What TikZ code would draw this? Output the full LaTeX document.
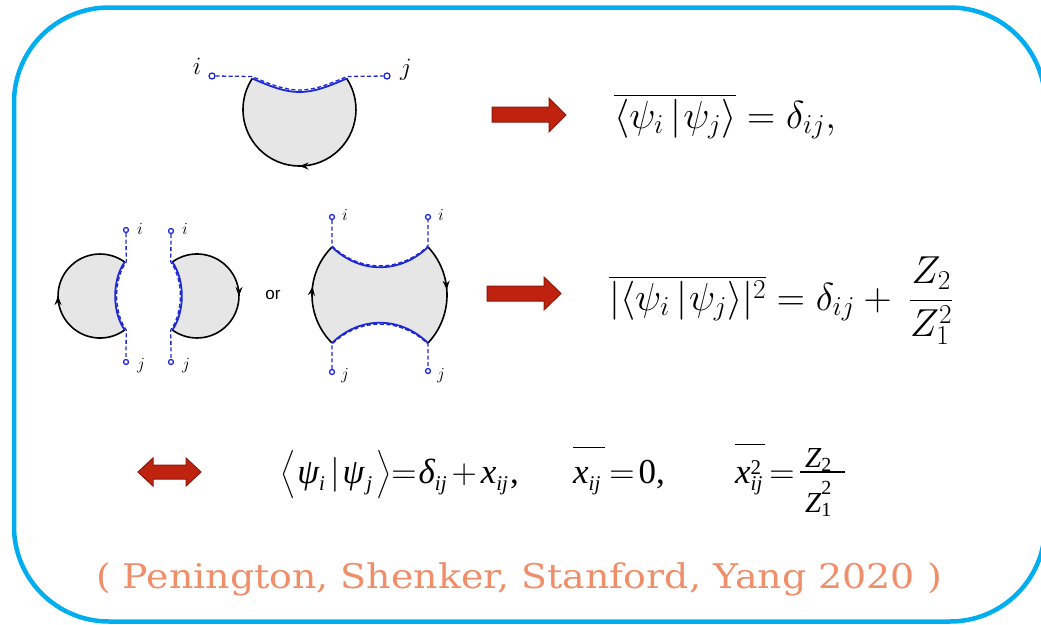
\RequirePackage{fix-cm}
\documentclass[tikz,border=0pt]{standalone}
\usepackage{amsmath}
\usepackage{graphicx}
\usepackage{fontspec}
\newfontfamily\tnr{Liberation Serif}
\newfontfamily\citefont{DejaVu Serif}
\newfontfamily\orfont{Liberation Sans}
\usetikzlibrary{arrows.meta,decorations.markings}
\definecolor{bord}{RGB}{0,174,239}
\definecolor{arrred}{RGB}{192,34,16}
\definecolor{arredge}{RGB}{140,22,10}
\definecolor{citec}{RGB}{240,142,106}
\definecolor{lnblue}{RGB}{30,40,210}
\definecolor{diskgray}{RGB}{230,230,230}
\newcommand\tit[1]{{\tnr\itshape #1}}
\newcommand\tsub[1]{\raisebox{-0.2em}{\fontsize{21}{23}\selectfont\tnr\itshape #1}}
\newcommand\tsubr[1]{\raisebox{-0.15em}{\fontsize{20}{22}\selectfont\tnr #1}}
\newcommand\tsupx[1]{\raisebox{0.25em}{\fontsize{21}{23}\selectfont\tnr #1}}
\newcommand\tsupz[1]{\raisebox{0.62em}{\fontsize{20}{22}\selectfont\tnr #1}}
\newcommand\tallopen[1]{\mathopen{\vcenter{\hbox{\scalebox{1}[1.08]{$\big#1$}}}}}
\newcommand\tallclose[1]{\mathclose{\vcenter{\hbox{\scalebox{1}[1.08]{$\big#1$}}}}}
\tikzset{
  bluedash/.style={draw=lnblue, line width=1.3pt, dash pattern=on 4pt off 2.5pt},
  bluesolid/.style={draw=lnblue, line width=1.8pt},
  rim/.style={draw=black, line width=1.6pt},
  endpt/.style={circle, draw=lnblue, fill=white, line width=1.3pt, inner sep=0pt, minimum size=6pt},
  midarrow/.style={postaction={decorate}, decoration={markings, mark=at position #1 with {\arrow{Stealth[length=9pt,width=7pt]}}}},
  redarrow/.style={fill=arrred, draw=arredge, line width=1pt, line join=miter},
  lbl/.style={inner sep=0pt, font=\fontsize{17}{19}\selectfont},
  eqn/.style={anchor=base west, inner sep=0pt},
  teq/.style={anchor=base west, inner sep=0pt, font=\fontsize{35}{37}\selectfont},
  feq/.style={anchor=base west, inner sep=0pt, font=\fontsize{29}{31}\selectfont}
}
\begin{document}
\begin{tikzpicture}[x=1pt,y=-1pt]
\useasboundingbox (0,0) rectangle (1041,624);
\clip (0,0) rectangle (1041,624);
% border
\draw[bord, line width=4.5pt, rounded corners=95pt] (14,7.5) rectangle (1045,621.5);

% ---------- top diagram ----------
\coordinate (tA) at (252.3,78.5);
\coordinate (tB) at (346.7,78.5);
\coordinate (tD) at (299.5,92);
\fill[diskgray] (tA) .. controls (272,87) and (285,92) .. (tD) .. controls (314,92) and (327,87) .. (tB) arc[start angle=-33.3,end angle=213.3,radius=56.5] -- cycle;
\draw[rim, midarrow=0.5] (tB) arc[start angle=-33.3,end angle=213.3,radius=56.5];
\draw[bluesolid] (tA) .. controls (272,87) and (285,92) .. (tD) .. controls (314,92) and (327,87) .. (tB);
\node[endpt] (ti) at (212,76) {};
\node[endpt] (tj) at (387,76) {};
\coordinate (tA2) at (252,76.5);
\coordinate (tB2) at (347,76.5);
\coordinate (tD2) at (299.5,90);
\draw[bluedash] (ti) -- (tA2) .. controls (272,85) and (285,90) .. (tD2) .. controls (314,90) and (327,85) .. (tB2) -- (tj);
\node[inner sep=0pt, font=\fontsize{25}{27}\selectfont] (tli) at (197,66) {$i$};
\node[inner sep=0pt, font=\fontsize{25}{27}\selectfont] (tlj) at (406,70) {$j$};

% ---------- middle left pair ----------
\coordinate (lT) at (124.7,262);
\coordinate (lB) at (124.7,330);
\fill[diskgray] (lB) arc[start angle=54,end angle=306,radius=42] .. controls (112,280) and (112,312) .. (lB) -- cycle;
\draw[rim, midarrow=0.5] (lB) arc[start angle=54,end angle=306,radius=42];
\draw[bluesolid] (lT) .. controls (112,280) and (112,312) .. (lB);
\node[endpt, minimum size=5pt] (li) at (126,230) {};
\node[endpt, minimum size=5pt] (lj) at (126,362) {};
\coordinate (lT2) at (126.2,262);
\coordinate (lB2) at (126.2,330);
\draw[bluedash] (li) -- (lT2) .. controls (113.5,280) and (113.5,312) .. (lB2) -- (lj);
\node[lbl] (lli) at (140,229) {$i$};
\node[lbl] (llj) at (141,366) {$j$};

\coordinate (rT) at (172.3,262);
\coordinate (rB) at (172.3,330);
\fill[diskgray] (rT) arc[start angle=-126,end angle=126,radius=42] .. controls (185,312) and (185,280) .. (rT) -- cycle;
\draw[rim, midarrow=0.5] (rT) arc[start angle=-126,end angle=126,radius=42];
\draw[bluesolid] (rT) .. controls (185,280) and (185,312) .. (rB);
\node[endpt, minimum size=5pt] (ri) at (171,231) {};
\node[endpt, minimum size=5pt] (rj) at (171,362) {};
\coordinate (rT2) at (170.8,262);
\coordinate (rB2) at (170.8,330);
\draw[bluedash] (ri) -- (rT2) .. controls (183.5,280) and (183.5,312) .. (rB2) -- (rj);
\node[lbl] (rli) at (185,229) {$i$};
\node[lbl] (rlj) at (186,366) {$j$};

\node[inner sep=0pt, font=\orfont\fontsize{17}{19}\selectfont] (or) at (273,295) {or};

% ---------- middle right shape ----------
\coordinate (TL) at (332,247);
\coordinate (TR) at (428,247);
\coordinate (BR) at (428,343);
\coordinate (BL) at (332,343);
\fill[diskgray] (TL) .. controls (360,274) and (400,274) .. (TR) arc[start angle=-43.21,end angle=43.21,radius=70.1] .. controls (400,316) and (360,316) .. (BL) arc[start angle=134.76,end angle=225.24,radius=67.6] -- cycle;
\draw[rim, midarrow=0.45] (TR) arc[start angle=-43.21,end angle=43.21,radius=70.1];
\draw[rim, midarrow=0.58] (BL) arc[start angle=134.76,end angle=225.24,radius=67.6];
\draw[bluesolid] (TL) .. controls (360,274) and (400,274) .. (TR);
\draw[bluesolid] (BL) .. controls (360,316) and (400,316) .. (BR);
\node[endpt, minimum size=5pt] (bi1) at (332,217) {};
\node[endpt, minimum size=5pt] (bi2) at (428,217) {};
\node[endpt, minimum size=5pt] (bj1) at (332,372) {};
\node[endpt, minimum size=5pt] (bj2) at (428,371) {};
\coordinate (TL2) at (332,246);
\coordinate (TR2) at (428,246);
\coordinate (BL2) at (332,344);
\coordinate (BR2) at (428,344);
\draw[bluedash] (bi1) -- (TL2) .. controls (360,272.5) and (400,272.5) .. (TR2) -- (bi2);
\draw[bluedash] (bj1) -- (BL2) .. controls (360,317.5) and (400,317.5) .. (BR2) -- (bj2);
\node[lbl] (bli1) at (345,215) {$i$};
\node[lbl] (bli2) at (441,215) {$i$};
\node[lbl] (blj1) at (345,376) {$j$};
\node[lbl] (blj2) at (441,376) {$j$};

% ---------- red arrows ----------
\draw[redarrow] (492,107) -- (549,107) -- (549,98) -- (566,115) -- (549,132) -- (549,122) -- (492,122) -- cycle;
\draw[redarrow] (487,286) -- (544,286) -- (544,277) -- (561,293.5) -- (544,310) -- (544,301) -- (487,301) -- cycle;
\draw[redarrow] (138,472) -- (153,458) -- (153,465) -- (186,465) -- (186,458) -- (201,472) -- (186,486) -- (186,479) -- (153,479) -- (153,486) -- cycle;

% ---------- equations ----------
\node[eqn, font=\fontsize{39}{41}\selectfont] (eq1) at (614,128) {$\overline{\langle\psi_i\mkern3mu|\mkern1mu\psi_j\rangle} = \delta_{ij},$};
\node[eqn, font=\fontsize{39}{41}\selectfont] (eq2) at (609,310) {$\overline{|\langle\psi_i\mkern3mu|\mkern1mu\psi_j\rangle|^2} = \delta_{ij} + \mkern4mu\dfrac{Z_2}{Z_1^2}$};

\node[teq] (eq3a) at (280,483) {$\tallopen\langle$\hspace{2pt}\tit{ψ}\tsub{i}\hspace{6pt}$|$\hspace{2pt}\tit{ψ}\hspace{2pt}\tsub{j}\hspace{4pt}$\tallclose\rangle$$=$\hspace{2pt}\tit{δ}\tsub{ij}\hspace{5pt}$+$\hspace{4pt}\tit{x}\tsub{ij}\hspace{2pt}{\tnr ,}};
\node[teq] (eq3b) at (573,483) {\makebox[0pt][l]{\rule[35pt]{32pt}{1.3pt}}\tit{x}\tsub{ij}\hspace{9pt}$=$\hspace{4pt}{\tnr 0,}};
\node[teq] (eq3c) at (735,483) {\makebox[0pt][l]{\rule[38pt]{30pt}{1.3pt}}\tit{x}\makebox[0pt][l]{\tsupx{2}}\tsub{ij}\hspace{7pt}$=$};
\node[feq] (fnum) at (805,467) {\tit{Z}\tsubr{2}};
\node[feq] (fden) at (805,512) {\tit{Z}\makebox[0pt][l]{\tsupz{2}}\tsubr{1}};
\coordinate (fbl) at (800,472);
\coordinate (fbr) at (845,472);
\draw[line width=1.3pt] (fbl) -- (fbr);

% ---------- citation ----------
\node[anchor=base, inner sep=0pt, text=citec, font=\citefont\fontsize{34}{36}\selectfont] (cite) at (519,588) {\scalebox{1.115}[1]{( Penington, Shenker, Stanford, Yang 2020 )}};
\end{tikzpicture}
\end{document}
